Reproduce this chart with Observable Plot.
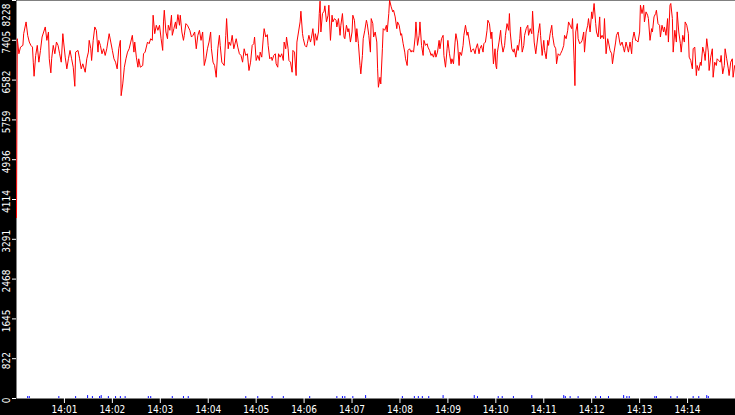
<!DOCTYPE html>
<html><head><meta charset="utf-8">
<script src="https://cdn.jsdelivr.net/npm/d3@7"></script>
<script src="https://cdn.jsdelivr.net/npm/@observablehq/plot@0.6"></script>
<style>html,body{margin:0;padding:0;background:#fff;overflow:hidden;}</style>
</head><body><div id="chart"></div>
<script>
// Time offsets (seconds after 14:00:00) and values of the red series
const redSeconds = [
0,1,3,5,8,9,12,14,16,18,
20,21,22,24,26,28,30,32,34,36,
38,40,41,43,44,46,48,50,52,54,
56,58,59,61,63,65,67,69,71,73,
74,77,79,81,83,86,88,90,91,93,
94,96,98,100,102,103,105,107,109,111,
113,116,118,120,122,124,126,128,130,131,
133,135,137,139,141,143,145,147,148,150,
152,153,155,158,159,161,164,166,168,170,
171,173,175,177,179,181,183,184,185,187,
189,190,192,194,195,197,199,200,202,204,
205,207,209,210,212,214,217,219,221,223,
225,227,229,231,233,235,237,239,241,243,
244,246,248,250,252,254,255,257,260,262,
263,265,266,268,270,272,275,277,279,281,
283,285,287,289,291,293,295,297,298,300,
302,304,305,307,309,310,312,314,315,317,
319,320,322,324,325,327,328,330,332,334,
335,337,338,340,341,343,345,346,348,350,
351,353,355,356,358,359,361,363,364,366,
368,369,371,373,374,376,378,379,380,381,
383,385,386,388,390,391,393,395,396,398,
400,401,403,405,406,408,410,411,413,415,
416,418,420,421,423,425,426,428,430,431,
433,434,436,438,439,441,443,444,446,447,
449,451,452,453,455,456,458,459,461,463,
464,466,467,469,471,472,474,476,477,479,
481,482,484,486,487,489,490,492,494,495,
497,499,500,502,504,505,507,509,510,512,
514,515,517,519,520,522,524,525,527,529,
530,532,534,535,537,539,540,542,544,545,
547,549,550,552,554,555,557,559,560,562,
564,565,567,569,570,572,574,575,577,579,
580,582,584,585,587,589,590,592,594,595,
597,599,600,
601,602,604,606,607,609,611,612,614,616,
617,618,620,622,623,625,627,628,630,631,
633,635,636,638,640,641,643,645,646,648,
650,651,653,655,656,658,660,661,663,665,
666,668,670,671,673,675,676,678,680,681,
683,685,686,688,690,691,693,695,696,698,
699,700,702,703,705,707,708,710,711,713,
715,716,718,720,721,723,725,726,728,730,
731,733,735,736,738,740,741,743,745,746,
748,750,751,753,755,756,758,760,761,763,
765,766,768,770,771,773,775,776,778,780,
781,783,785,786,788,790,791,793,795,796,
798,800,801,803,805,806,808,810,811,813,
815,816,818,819,821,822,824,826,827,829,
831,832,834,836,837,839,841,842,844,846,
847,849,851,852,854,856,857,859,861,862,
864,866,867,869,871,872,874,876,877,879,
881,882,884,886,887,889,891,892,894,896,
897,899,900
];
const redValues = [
3740,7438,7127,7265,7300,7542,7785,7508,7369,7300,
7265,6953,6662,7092,7300,6953,7196,7473,7577,7681,
7404,7577,7023,6732,7023,7300,7127,7369,7300,7127,
6953,7542,7369,7057,6815,7023,7196,7023,6849,6454,
7161,7196,7023,6815,6919,6745,7023,7161,7404,7230,
6988,7404,7681,7612,7161,7404,7300,7127,7230,7092,
7230,7542,7369,7196,7023,6953,6815,7230,7404,6260,
6503,6849,7023,7161,7230,7369,7508,7161,7369,7057,
6849,7023,6849,6884,7127,7161,7369,7334,7438,7404,
7924,7542,7716,7612,7716,7438,7196,7785,8027,7577,
7438,7716,7612,7924,7508,7646,7785,7646,7937,7716,
7924,7577,7404,7508,7750,7716,7612,7473,7508,7577,
7230,7508,7612,7404,7577,6884,7023,7230,7369,7577,
7230,6953,6884,6641,7230,7508,7300,6953,6884,7508,
7854,7230,7369,7300,7508,7230,7438,7265,7127,7092,
6953,7230,7092,7127,6780,6953,7300,7334,7473,6988,
7092,6988,7161,7057,7473,7646,7473,7522,7300,7023,
7057,6988,7092,7127,6919,6849,7127,7057,7127,6988,
7369,7230,7473,7230,6988,6953,6745,7196,7161,6676,
7369,7577,7785,8007,7542,7438,7300,7265,7334,7508,
7369,7438,7646,7300,7542,7404,7577,7958,8215,7577,
7958,8007,8118,7785,7924,8131,7404,7924,7785,7854,
7820,7681,7854,7508,7716,7958,7473,7438,7716,7577,
7646,7369,7577,7924,7820,7369,7646,7334,6884,6711,
7092,7438,7612,7820,7750,7508,7161,7854,7750,7473,
7577,7369,6815,6434,6641,6503,7230,7646,7612,7716,
7577,7958,8235,8097,7993,8027,7889,7646,7785,7716,
7508,7542,7334,7161,7023,6884,7196,7230,7161,7196,
7161,7473,7785,7300,7508,7785,7300,7092,7404,7300,
7334,7265,7196,7092,7127,7057,7196,7057,7161,7404,
7230,7438,7508,7092,6849,7230,7404,7127,6919,7023,
6919,7369,7542,7369,6884,7161,7092,7300,7508,7716,
7508,7577,7369,7161,7196,7230,7127,7230,7334,7127,
7230,7300,7161,7334,7369,7612,7820,7750,7438,7577,
6919,7230,6884,
6815,7161,7369,7612,7369,7161,7300,7508,7750,7612,
7958,7577,7230,7161,7230,7057,7300,7196,7438,7681,
7161,7300,7508,7646,7716,7508,7646,7542,8007,7369,
7127,7265,7542,7750,7508,7092,7404,7196,7023,7404,
7300,7542,7716,7508,7300,7230,6919,7127,7092,7127,
7196,7300,7508,7438,7612,7785,7716,7646,7854,6988,
6468,7577,7750,7438,7334,7369,7404,7577,7161,7577,
7716,7854,7577,7993,7854,8166,7750,7577,7473,7889,
7438,7508,7438,7854,7127,7438,7369,7196,7127,6919,
7161,7369,7508,7577,7369,7300,7369,7230,7161,7369,
7230,7161,7369,7127,7404,7577,7404,7404,7369,7577,
8131,7958,8131,7785,7993,7924,7854,7404,7646,7577,
7889,7958,8027,7750,7716,7473,7716,7577,7681,7508,
7854,7369,8131,8166,7854,7161,7612,7369,7993,7577,
7334,7161,7508,7369,7785,7716,7542,7057,6988,6815,
7230,7265,6676,6884,6780,6953,6884,7265,7127,6988,
7438,7161,6780,7057,7230,6641,6953,6884,7023,6988,
6953,7092,6711,6884,7230,7023,6815,6676,6953,7023,
6641,6884,6849
];
// Small blue series near zero (seconds after 14:00:00, value)
const blueSeconds = [14,16,53,74,89,95,104,106,115,124,130,136,165,168,195,209,215,287,302,320,334,367,401,408,411,421,437,483,498,503,508,516,534,573,577,603,608,622,645,685,687,693,703,725,731,741,760,764,767,799,801,819,827,847,854,864,866];
const blueValues  = [40,40,40,40,60,40,40,60,40,40,40,40,40,40,40,40,40,40,40,40,40,40,40,40,40,40,60,40,40,40,40,40,60,60,40,40,40,40,60,60,40,40,40,40,40,40,60,40,40,40,40,40,40,40,40,60,40];
// Axis ticks
const yTickValues = [0,822.8,1645.6,2468.4,3291.2,4114,4936.8,5759.6,6582.4,7405.2,8228];
const yTickLabels = ["0","822","1645","2468","3291","4114","4936","5759","6582","7405","8228"];
const xTickLabels = ["14:01","14:02","14:03","14:04","14:05","14:06","14:07","14:08","14:09","14:10","14:11","14:12","14:13","14:14"];

const baseTime = Date.UTC(2024,0,1,14,0,0);
const toDate = s => new Date(baseTime + s * 1000);
const red = redSeconds.map((s, i) => ({t: toDate(s), v: redValues[i]}));
const blue = blueSeconds.map((s, i) => ({t: toDate(s), v: blueValues[i]}));
const xTicks = xTickLabels.map(l => { const [h, m] = l.split(":").map(Number); return new Date(Date.UTC(2024,0,1,h,m,0)); });
const yTicks = yTickValues.map((v, i) => ({t: toDate(0), v, label: yTickLabels[i]}));

const chart = Plot.plot({
  width: 735, height: 415,
  marginLeft: 16, marginRight: 0, marginTop: 0, marginBottom: 17,
  style: {background: "black", fontFamily: "'DejaVu Sans Condensed', 'DejaVu Sans', sans-serif", fontSize: "10px", color: "white", overflow: "visible"},
  x: {type: "utc", domain: [toDate(0), toDate(900)], axis: null},
  y: {domain: [0, 8228], axis: null},
  marks: [
    Plot.frame({fill: "white", stroke: "none"}),
    Plot.ruleX(blue, {x: "t", y1: 0, y2: "v", stroke: "#0000ff", strokeWidth: 1, clip: true}),
    Plot.line(red, {x: "t", y: "v", stroke: "#ff0000", strokeWidth: 1, clip: true}),
    Plot.axisX(xTicks, {tickSize: 5, tickPadding: 2, color: "white", tickFormat: d3.utcFormat("%H:%M"), fontSize: 10, label: null}),
    Plot.axisY(yTickValues, {tickSize: 4, color: "white", tickFormat: () => "", label: null}),
    Plot.text(yTicks.slice(0, -1), {x: "t", y: "v", text: "label", rotate: -90, dx: -10, dy: 2, fill: "white", textAnchor: "middle", fontSize: 10}),
    Plot.text(yTicks.slice(-1), {x: "t", y: "v", text: "label", rotate: -90, dx: -10, dy: 3, fill: "white", textAnchor: "end", fontSize: 10})
  ]
});
document.getElementById("chart").appendChild(chart);
</script>
</body></html>
